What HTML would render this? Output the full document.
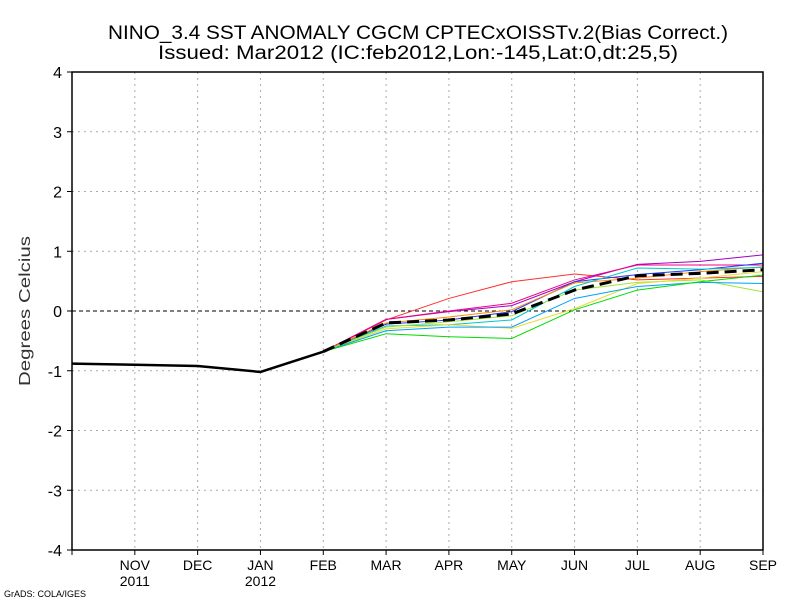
<!DOCTYPE html>
<html><head><meta charset="utf-8"><style>
body{margin:0;background:#fff}
svg{display:block;font-family:"Liberation Sans",sans-serif}
</style></head><body>
<svg id="c" width="800" height="600">
<text x="418" y="39" text-anchor="middle" font-size="19" textLength="620" lengthAdjust="spacingAndGlyphs">NINO_3.4 SST ANOMALY CGCM CPTECxOISSTv.2(Bias Correct.)</text>
<text x="418" y="59" text-anchor="middle" font-size="19" textLength="520" lengthAdjust="spacingAndGlyphs">Issued:   Mar2012 (IC:feb2012,Lon:-145,Lat:0,dt:25,5)</text>
<text x="30" y="311" text-anchor="middle" font-size="16" fill="#333" transform="rotate(-90 30 311)" textLength="150" lengthAdjust="spacingAndGlyphs">Degrees Celcius</text>
<text x="4" y="597" font-size="9">GrADS: COLA/IGES</text>
<g id="g"></g>
</svg>
<script>
const months=["OCT","NOV","DEC","JAN","FEB","MAR","APR","MAY","JUN","JUL","AUG","SEP"];
const xLabels=["","NOV","DEC","JAN","FEB","MAR","APR","MAY","JUN","JUL","AUG","SEP"];
const yearLabels=["","2011","","2012","","","","","","","",""];
const yTicks=[-4,-3,-2,-1,0,1,2,3,4];
const observed=[-0.88,-0.9,-0.92,-1.02,-0.68];
const memberColors=["#ff3030","#a000c8","#f00082","#1e3cff","#ff8c00","#00c8c8","#a0e632","#e6dc32","#00a0ff","#00dc00"];
const m1=[-0.68,-0.15,0.21,0.49,0.62,0.52,0.55,0.58];
const m2=[-0.68,-0.14,-0.01,0.09,0.49,0.78,0.83,0.94];
const m3=[-0.68,-0.14,0.0,0.13,0.52,0.77,0.77,0.77];
const m4=[-0.68,-0.22,-0.15,-0.01,0.49,0.61,0.69,0.8];
const m5=[-0.68,-0.2,-0.1,0.02,0.47,0.55,0.66,0.74];
const m6=[-0.68,-0.25,-0.23,-0.15,0.41,0.72,0.7,0.73];
const m7=[-0.68,-0.27,-0.18,-0.08,0.35,0.48,0.52,0.32];
const m8=[-0.68,-0.3,-0.23,-0.29,0.04,0.46,0.55,0.66];
const m9=[-0.68,-0.33,-0.27,-0.27,0.21,0.41,0.48,0.46];
const m10=[-0.68,-0.38,-0.43,-0.46,0.02,0.35,0.49,0.6];
const ensMean=[-0.68,-0.2,-0.15,-0.05,0.35,0.59,0.63,0.69];
const members=[m1,m2,m3,m4,m5,m6,m7,m8,m9,m10];

const X0=72,X1=763,Y0=72,Y1=550;
const xs=i=>X0+(X1-X0)*i/(months.length-1);
const ys=v=>Y1-(v+4)/8*(Y1-Y0);
const g=document.getElementById('g');
const NS="http://www.w3.org/2000/svg";
function mk(t,a){const e=document.createElementNS(NS,t);for(const k in a)e.setAttribute(k,a[k]);g.appendChild(e);return e;}
// grid
for(let i=1;i<months.length-1;i++){const l=mk('line',{x1:xs(i),x2:xs(i),y1:Y0,y2:Y1,stroke:'#aaa','stroke-dasharray':'2,4'});

}
yTicks.forEach(v=>{if(v>-4&&v<4&&v!==0){const l=mk('line',{x1:X0,x2:X1,y1:ys(v),y2:ys(v),stroke:'#aaa','stroke-dasharray':'2,4'});

}});
const z=mk('line',{x1:X0,x2:X1,y1:ys(0),y2:ys(0),stroke:'#000','stroke-dasharray':'4,3'});


// members
members.forEach((m,k)=>{const p=mk('polyline',{points:m.map((v,i)=>xs(i+4)+','+ys(v)).join(' '),fill:'none',stroke:memberColors[k],'stroke-width':1});

});
const mean=mk('polyline',{points:ensMean.map((v,i)=>xs(i+4)+','+ys(v)).join(' '),fill:'none',stroke:'#000','stroke-width':3,'stroke-dasharray':'12,6'});


const obs=mk('polyline',{points:observed.map((v,i)=>xs(i)+','+ys(v)).join(' '),fill:'none',stroke:'#000','stroke-width':2.5});


// frame
const fr=mk('rect',{x:X0,y:Y0,width:X1-X0,height:Y1-Y0,fill:'none',stroke:'#000','stroke-width':1.5});


yTicks.forEach(v=>{mk('line',{x1:X0-5,x2:X0,y1:ys(v),y2:ys(v),stroke:'#000'});
const t=mk('text',{x:X0-10,y:ys(v)+6,'text-anchor':'end','font-size':16});t.textContent=v;

});
xLabels.forEach((s,i)=>{mk('line',{x1:xs(i),x2:xs(i),y1:Y1,y2:Y1+5,stroke:'#000'});
if(s){const t=mk('text',{x:xs(i),y:Y1+20,'text-anchor':'middle','font-size':14});t.textContent=s;

}
if(yearLabels[i]){const t=mk('text',{x:xs(i),y:Y1+36,'text-anchor':'middle','font-size':14});t.textContent=yearLabels[i];

}});
</script>
</body></html>
